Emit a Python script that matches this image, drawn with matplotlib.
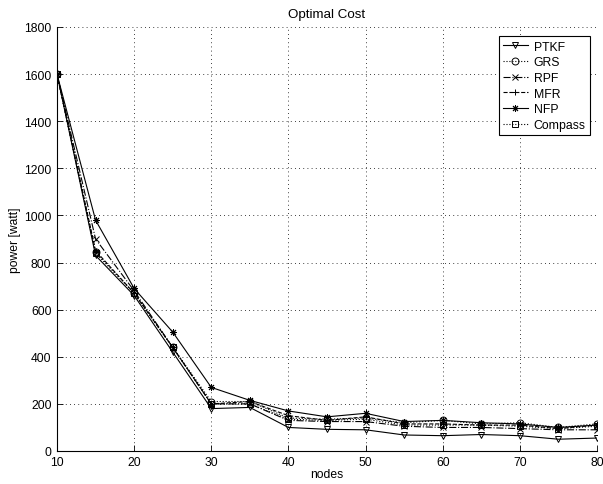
import matplotlib
matplotlib.use('Agg')
import matplotlib.pyplot as plt

nodes = [10, 15, 20, 25, 30, 35, 40, 45, 50, 55, 60, 65, 70, 75, 80]

ptkf = [1600, 830, 660, 420, 180, 185, 100, 92, 90, 68, 65, 70, 65, 50, 55]
grs = [1600, 845, 670, 440, 210, 210, 140, 135, 140, 120, 130, 115, 120, 100, 115]
rpf = [1600, 900, 680, 440, 200, 200, 130, 125, 125, 105, 100, 100, 95, 90, 90]
mfr = [1600, 850, 670, 440, 200, 210, 150, 130, 145, 115, 115, 110, 110, 95, 110]
nfp = [1600, 980, 690, 505, 270, 215, 170, 145, 160, 125, 130, 120, 115, 100, 110]
compass = [1600, 840, 670, 440, 200, 200, 135, 130, 135, 110, 110, 110, 105, 95, 105]

plt.rcParams['font.family'] = ['Liberation Sans', 'DejaVu Sans']
plt.rcParams['font.size'] = 8.7

fig = plt.figure(figsize=(6.03, 4.85), dpi=100)
ax = fig.add_axes([57 / 603, 33 / 485, 540 / 603, 424 / 485])

mk = dict(color='black', linewidth=0.8, markersize=5, markerfacecolor='none',
          markeredgecolor='black', markeredgewidth=0.7)
ax.plot(nodes, ptkf, '-', marker='v', label='PTKF', **mk)
ax.plot(nodes, grs, ':', marker='o', label='GRS', **mk)
ax.plot(nodes, rpf, '-.', marker='x', label='RPF', **mk)
ax.plot(nodes, mfr, '--', marker='+', label='MFR', **mk)
ax.plot(nodes, nfp, '-', marker=(8, 2, 0), label='NFP', **mk)
ax.plot(nodes, compass, ':', marker='s', label='Compass', **mk)

ax.set_xlim(10, 80)
ax.set_ylim(0, 1800)
ax.set_xticks(range(10, 81, 10))
ax.set_yticks(range(0, 1801, 200))
ax.grid(True, linestyle=(0, (1, 4)), color='black', linewidth=0.6)
ax.tick_params(direction='in', length=4, width=0.6)
ax.tick_params(axis='x', pad=3.5)
ax.tick_params(axis='y', pad=4)
ax.spines['top'].set_visible(False)
ax.spines['right'].set_visible(False)

ax.set_title('Optimal Cost', fontsize=9.6, pad=7)
ax.set_xlabel('nodes', labelpad=0)
ax.set_ylabel('power [watt]', labelpad=2)

leg = ax.legend(loc='upper right', bbox_to_anchor=(0.987, 0.978), fancybox=False,
                framealpha=1, edgecolor='black', fontsize=8.8, handlelength=2.0,
                borderpad=0.35, labelspacing=0.3, handletextpad=0.5,
                borderaxespad=0)
leg.get_frame().set_linewidth(0.8)

fig.savefig('out.png', dpi=100)
